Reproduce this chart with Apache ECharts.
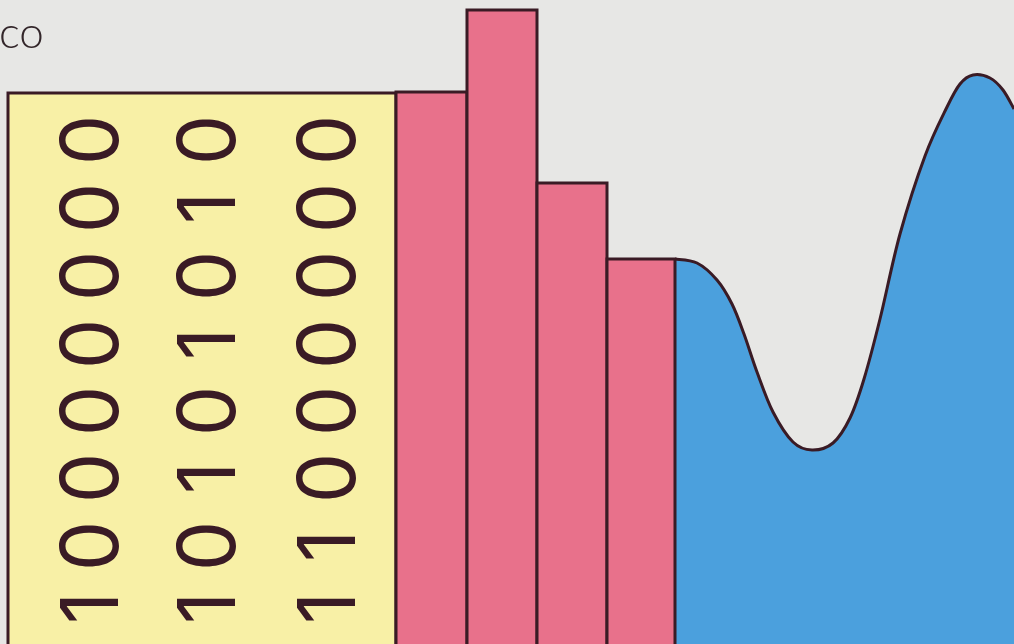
<!DOCTYPE html>
<html>
<head>
<meta charset="utf-8">
<style>
  html, body { margin: 0; padding: 0; background: #e7e7e5; }
  #chart { width: 1014px; height: 644px; }
</style>
<script src="https://cdn.jsdelivr.net/npm/echarts@6/dist/echarts.min.js"></script>
</head>
<body>
<div id="chart"></div>
<script>
// ---- data (x and y in the chart's own units) ----
const titleText = 'co';
// binary words, each read bottom-to-top in its column
const binaryWords = ['10000000', '10101010', '11000000'];
const wordColumnsX = [94, 211, 331];
const digitRowsY = [36, 98, 166, 233, 300, 368, 436, 504];   // bottom-to-top
// yellow block: [x0, x1, top]
const blockSpan = [[8, 396, 551]];
// red bars: [x0, x1, top]
const barSpans = [
  [396, 467, 552],
  [467, 537, 634],
  [537, 607, 461],
  [607, 675, 385]
];
// blue wave: [x, value]
const waveX = [675, 697, 717, 732, 744, 757, 773, 793, 812, 833, 850, 864, 880, 900, 925, 947, 960, 973, 990, 1003, 1014];
const waveY = [385, 381, 364, 340, 310, 272, 232, 202, 194, 201, 226, 265, 325, 410, 488, 537, 560, 569, 566, 554, 535];

const ink = '#3a1b25';

const digitPoints = [];
binaryWords.forEach((w, ci) => {
  w.split('').forEach((d, ri) => {
    digitPoints.push([wordColumnsX[ci], digitRowsY[ri], d]);
  });
});

function rectItem(fill) {
  return function (params, api) {
    const x0 = api.value(0), x1 = api.value(1), top = api.value(2);
    const p0 = api.coord([x0, top]);
    const p1 = api.coord([x1, 0]);
    return {
      type: 'rect',
      shape: { x: p0[0], y: p0[1], width: p1[0] - p0[0], height: p1[1] - p0[1] + 20 },
      style: { fill: fill, stroke: ink, lineWidth: 3 }
    };
  };
}

// smooth curve through the wave points (Catmull-Rom -> cubic Bezier), in pixel space via api.coord
function waveItem(params, api) {
  const pts = waveX.map((x, i) => api.coord([x, waveY[i]]));
  let d = 'M' + pts[0][0] + ' ' + pts[0][1];
  for (let i = 0; i < pts.length - 1; i++) {
    const p0 = pts[Math.max(i - 1, 0)], p1 = pts[i], p2 = pts[i + 1], p3 = pts[Math.min(i + 2, pts.length - 1)];
    const c1 = [p1[0] + (p2[0] - p0[0]) / 6, p1[1] + (p2[1] - p0[1]) / 6];
    const c2 = [p2[0] - (p3[0] - p1[0]) / 6, p2[1] - (p3[1] - p1[1]) / 6];
    d += ' C' + c1[0] + ' ' + c1[1] + ' ' + c2[0] + ' ' + c2[1] + ' ' + p2[0] + ' ' + p2[1];
  }
  const base = api.coord([0, 0])[1] + 20;
  const last = pts[pts.length - 1];
  const fillD = d + ' L' + (last[0] + 10) + ' ' + last[1] + ' L' + (last[0] + 10) + ' ' + base + ' L' + pts[0][0] + ' ' + base + ' Z';
  return {
    type: 'group',
    children: [
      { type: 'path', shape: { pathData: fillD }, style: { fill: '#4ba0dd', stroke: null } },
      { type: 'path', shape: { pathData: d }, style: { fill: null, stroke: ink, lineWidth: 3 } }
    ]
  };
}

const chart = echarts.init(document.getElementById('chart'), null, { renderer: 'canvas' });
chart.setOption({
  backgroundColor: '#e7e7e5',
  animation: false,
  grid: { left: 0, right: 0, top: 0, bottom: 0 },
  xAxis: { type: 'value', min: 0, max: 1014, show: false },
  yAxis: { type: 'value', min: 0, max: 644, show: false },
  graphic: [{
    type: 'text', left: -1, top: 12,
    style: { text: titleText, fontSize: 44, fontFamily: 'Lato', fontWeight: 300, fill: '#33262a' }
  }],
  series: [
    {
      type: 'custom',
      data: [[waveX[0], waveY[0]]],
      renderItem: waveItem,
      clip: false,
      z: 1
    },
    {
      type: 'custom',
      data: blockSpan,
      renderItem: rectItem('#f8f0a6'),
      clip: false,
      z: 2
    },
    {
      type: 'custom',
      data: barSpans,
      renderItem: rectItem('#e8718b'),
      clip: false,
      z: 2
    },
    {
      type: 'custom',
      data: digitPoints,
      clip: false,
      z: 3,
      renderItem: function (params, api) {
        const p = api.coord([api.value(0), api.value(1)]);
        return {
          type: 'text',
          x: p[0], y: p[1],
          rotation: Math.PI / 2,
          style: {
            text: String(digitPoints[params.dataIndex][2]),
            fontSize: 80,
            fontFamily: 'Inter',
            fontWeight: 400,
            fill: ink,
            align: 'center',
            verticalAlign: 'middle'
          }
        };
      }
    }
  ]
});
</script>
</body>
</html>
